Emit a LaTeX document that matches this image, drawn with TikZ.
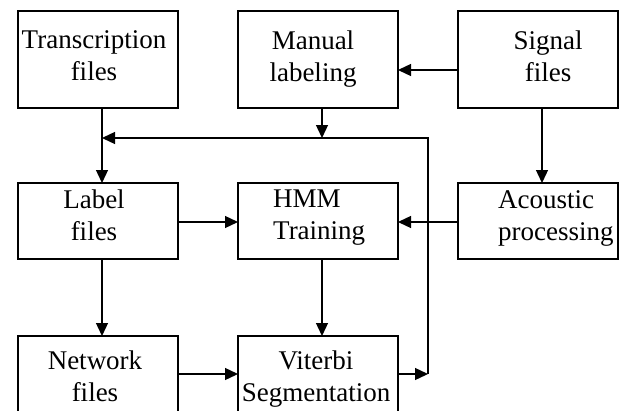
\documentclass[tikz,border=0pt]{standalone}
\usepackage{fontspec}
\setmainfont{Liberation Serif}
\usetikzlibrary{arrows.meta}
\begin{document}
\begin{tikzpicture}[x=1pt,y=-1pt,
  box/.style={draw, line width=1.8pt, minimum width=160pt, outer sep=0pt, inner sep=0pt},
  lbl/.style={font=\fontsize{27}{32}\selectfont, inner sep=0pt, align=center, anchor=north},
  lbll/.style={font=\fontsize{27}{32}\selectfont, inner sep=0pt, align=left, anchor=north west},
  arr/.style={line width=1.3pt, -{Triangle[length=13pt,width=12pt]}},
  ln/.style={line width=1.3pt}]
\useasboundingbox (0,0) rectangle (619,410);
% boxes
\node[box, minimum height=97pt] (tr) at (98,59.5) {};
\node[box, minimum height=97pt] (ml) at (318,59.5) {};
\node[box, minimum height=97pt] (sf) at (538,59.5) {};
\node[box, minimum height=76pt] (lf) at (98,221) {};
\node[box, minimum height=76pt] (hmm) at (318,221) {};
\node[box, minimum height=76pt] (ap) at (538,221) {};
\node[box, minimum height=84pt] (nf) at (98,378) {};
\node[box, minimum height=84pt] (vs) at (318,378) {};
% texts
\node[lbl] (ttr) at (94,30.6) {Transcription\\files};
\node[lbl] (tml) at (313,30.6) {Manual\\labeling};
\node[lbl] (tsf) at (548,30.6) {Signal\\files};
\node[lbl] (tlf) at (94,189.6) {Label\\files};
\node[lbll] (thmm) at (273,190.1) {HMM\\Training};
\node[lbll] (tap) at (498,190.6) {Acoustic\\processing};
\node[lbl] (tnf) at (95,350.6) {Network\\files};
\node[lbl] (tvs) at (316,350.6) {Viterbi\\Segmentation};
% junction coordinates
\coordinate (j1) at (102,138);
\coordinate (j2) at (322,138);
\coordinate (c1) at (428,138);
\coordinate (c2) at (428,374);
\coordinate (xs) at (542,0);
% connectors
\draw[arr] (tr.south -| j1) -- (lf.north -| j1);
\draw[arr] (ml.south -| j2) -- (j2);
\draw[arr] (sf.west) ++(0,10.5) coordinate (sfw) (sfw) -- (sfw -| ml.east);
\draw[arr] (sf.south -| xs) -- (ap.north -| xs);
\draw[arr] (lf.east) ++(0,1) coordinate (lfe) (lfe) -- (lfe -| hmm.west);
\draw[arr] (ap.west) ++(0,1) coordinate (apw) (apw) -- (apw -| hmm.east);
\draw[arr] (lf.south -| j1) -- (nf.north -| j1);
\draw[arr] (hmm.south -| j2) -- (vs.north -| j2);
\draw[arr] (nf.east |- c2) -- (vs.west |- c2);
\draw[arr] (vs.east |- c2) -- (c2);
\draw[arr] (c2) -- (c1) -- (j1);
\end{tikzpicture}
\end{document}
